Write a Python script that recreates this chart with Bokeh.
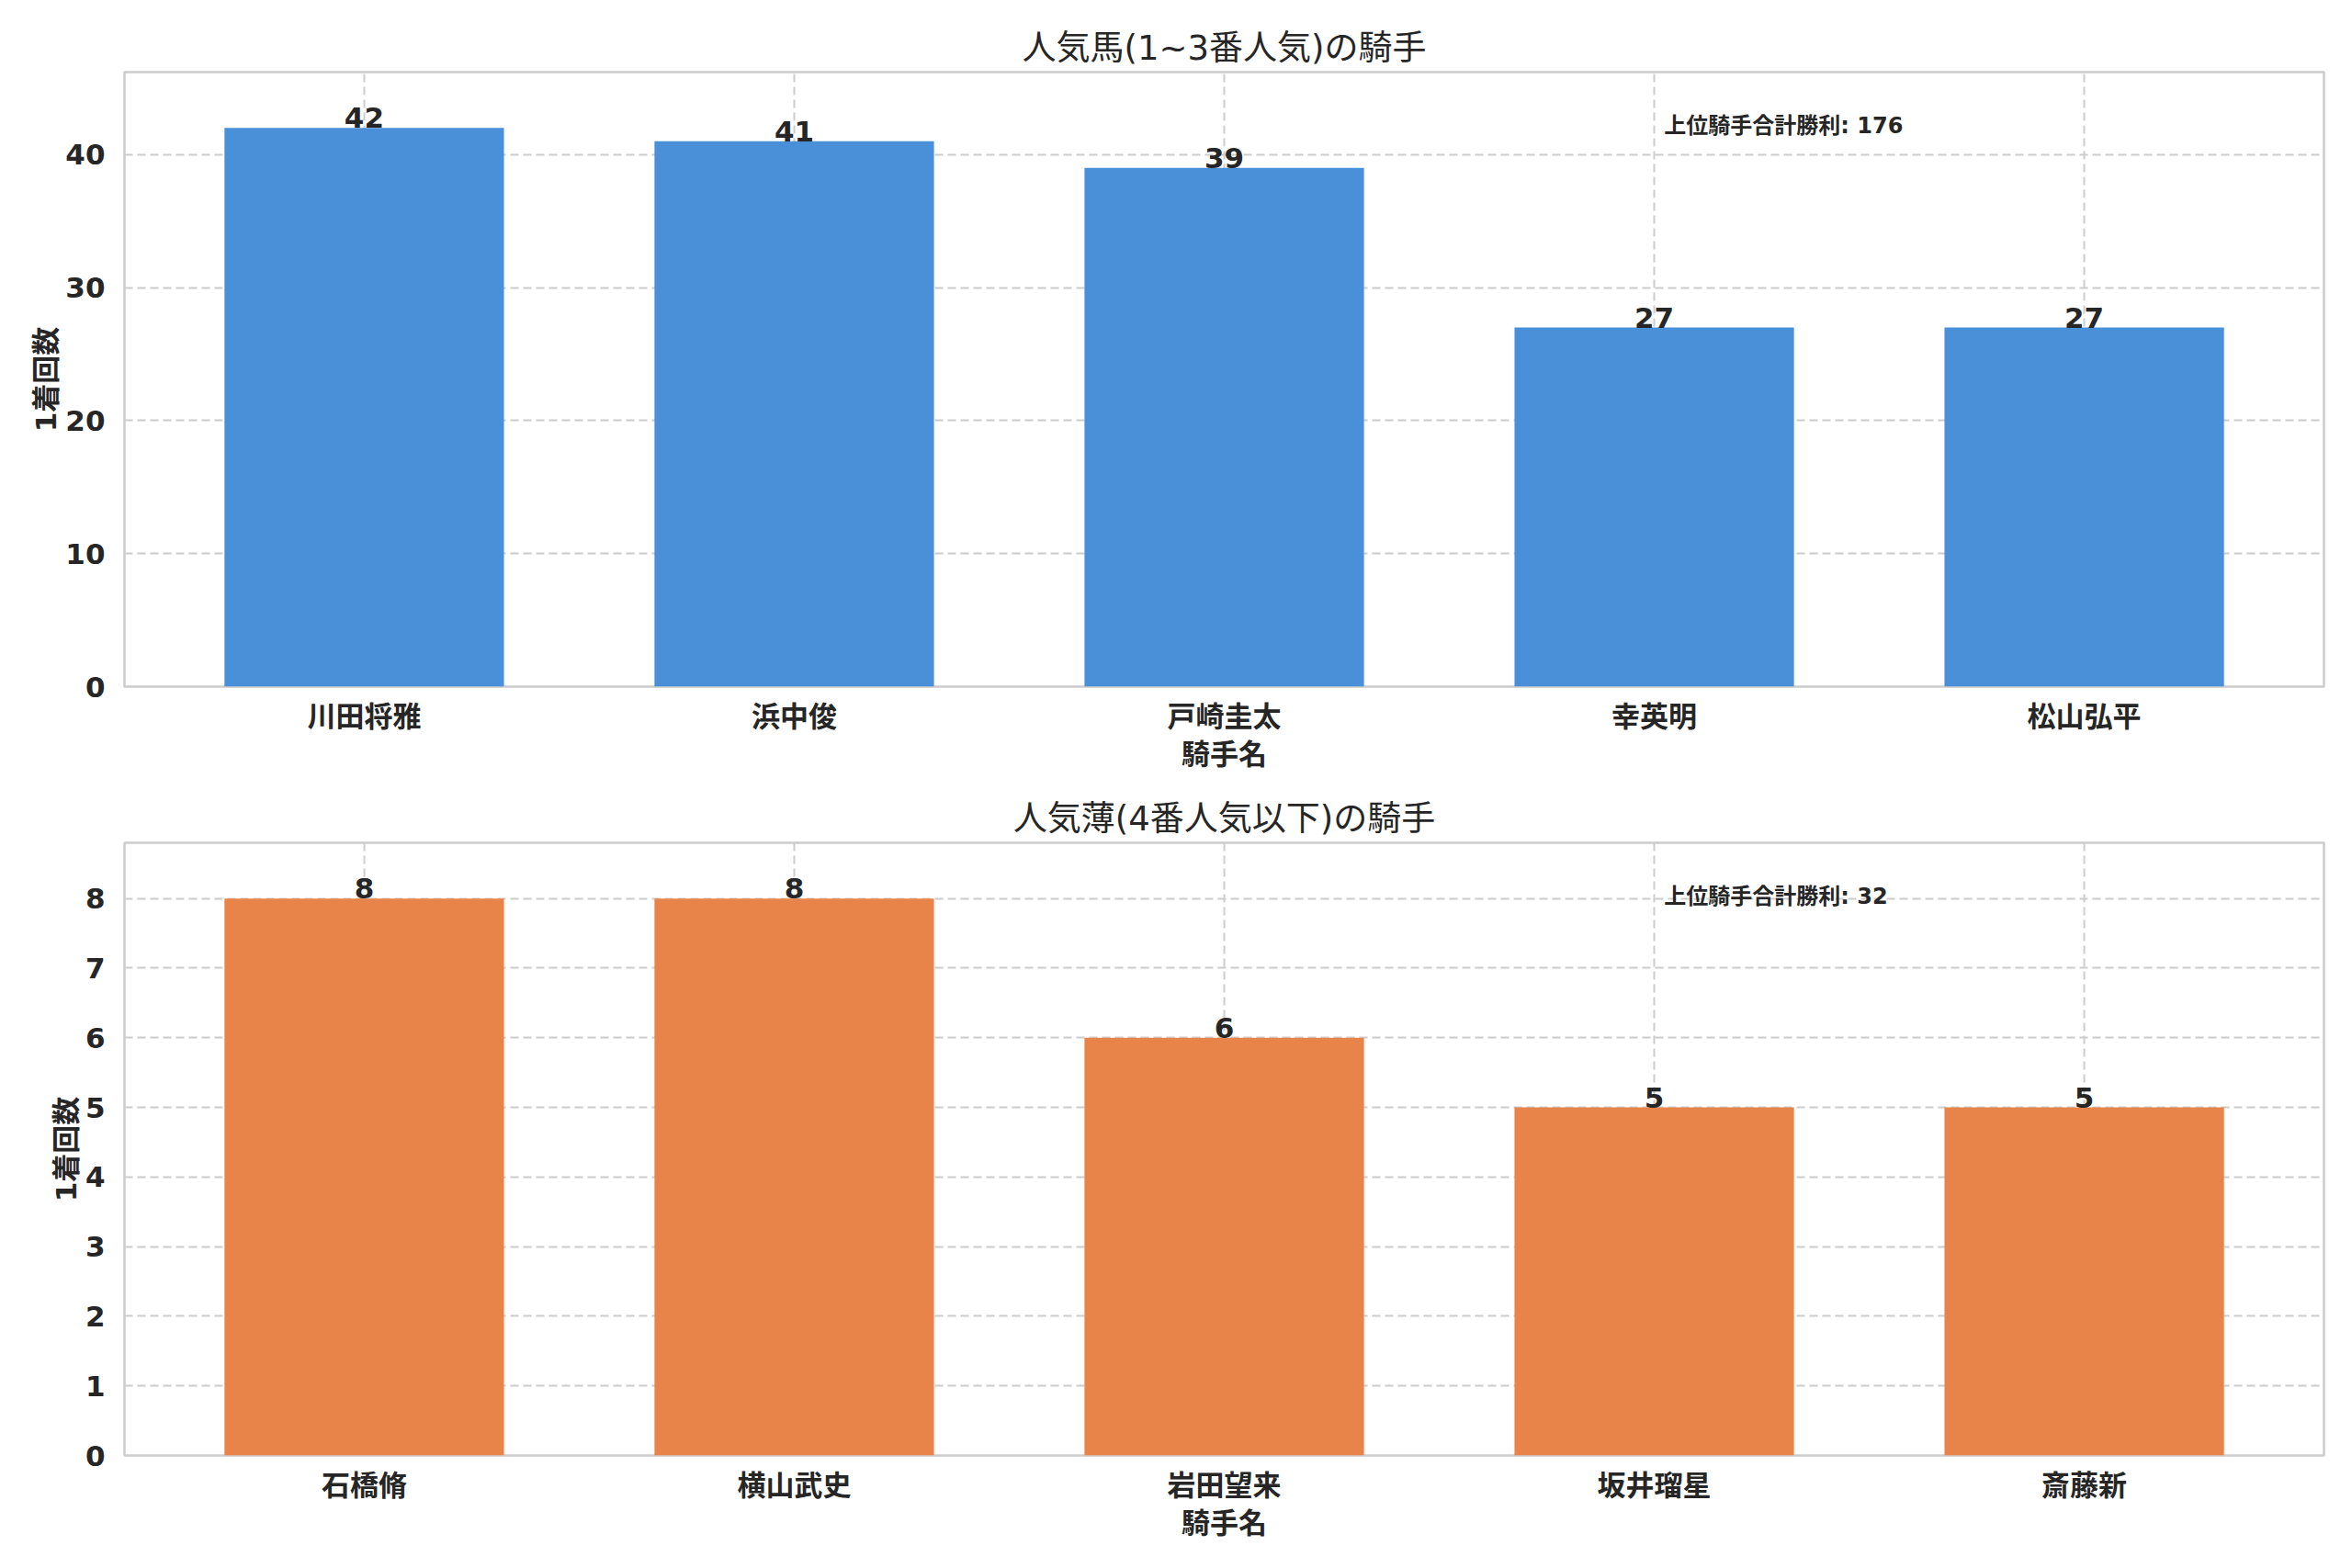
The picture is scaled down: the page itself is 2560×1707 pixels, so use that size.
from bokeh.plotting import figure
from bokeh.models import ColumnDataSource, Range1d, FixedTicker, Label
from bokeh.layouts import column
from bokeh.core.properties import value
from bokeh.embed import file_html
from bokeh.resources import INLINE

# ---- data ----
top_names = ["川田将雅", "浜中俊", "戸崎圭太", "幸英明", "松山弘平"]
top_wins = [42, 41, 39, 27, 27]
top_title = "人気馬(1~3番人気)の騎手"

bottom_names = ["石橋脩", "横山武史", "岩田望来", "坂井瑠星", "斎藤新"]
bottom_wins = [8, 8, 6, 5, 5]
bottom_title = "人気薄(4番人気以下)の騎手"

x_label = "騎手名"
y_label = "1着回数"
total_label = "上位騎手合計勝利"

top_yticks = [0, 10, 20, 30, 40]
bottom_yticks = [0, 1, 2, 3, 4, 5, 6, 7, 8]

FONT = "DejaVu Sans, Noto Sans CJK JP"
TXT = "#262626"
GRID = "#cccccc"


def make_plot(names, wins, title, color, yticks, height, border_top, border_bottom):
    n = len(names)
    bar_w = 0.65
    pad = 0.05 * (n - 1 + bar_w)
    x0, x1 = -bar_w / 2 - pad, n - 1 + bar_w / 2 + pad
    ymax = max(wins) * 1.1
    frame_h = height - border_top - border_bottom
    p = figure(width=2544, height=height, output_backend="svg", toolbar_location=None,
               x_range=Range1d(x0, x1), y_range=Range1d(0, ymax),
               min_border_left=135, min_border_right=15,
               min_border_top=border_top, min_border_bottom=border_bottom,
               title=title)
    p.background_fill_color = "white"
    p.border_fill_color = "white"
    p.outline_line_color = GRID
    p.outline_line_width = 2.5

    p.title.text_font = FONT
    p.title.text_font_size = "37px"
    p.title.text_font_style = "normal"
    p.title.text_color = TXT
    p.title.align = "center"
    p.title.standoff = 10

    src = ColumnDataSource(dict(x=list(range(n)), top=wins, label=[str(v) for v in wins]))
    p.vbar(x="x", top="top", width=bar_w, source=src, fill_color=color, line_color=None)
    p.text(x="x", y="top", text="label", source=src, text_align="center",
           text_baseline="alphabetic", y_offset=-11, text_font=value(FONT),
           text_font_size="31px", text_font_style="bold", text_color=TXT)

    p.xaxis.ticker = FixedTicker(ticks=list(range(n)))
    p.xaxis.major_label_overrides = {i: nm for i, nm in enumerate(names)}
    p.yaxis.ticker = FixedTicker(ticks=yticks)
    for ax in (p.xaxis, p.yaxis):
        ax.axis_line_color = None
        ax.major_tick_line_color = None
        ax.minor_tick_line_color = None
        ax.major_label_text_font = FONT
        ax.major_label_text_font_size = "31px"
        ax.major_label_text_font_style = "bold"
        ax.major_label_text_color = TXT
        ax.axis_label_text_font = FONT
        ax.axis_label_text_font_size = "31px"
        ax.axis_label_text_font_style = "bold"
        ax.axis_label_text_color = TXT
    p.xaxis.major_label_standoff = 8
    p.xaxis.axis_label_standoff = 2
    p.yaxis.major_label_standoff = 15
    p.yaxis.axis_label_standoff = 0
    p.xaxis.axis_label = x_label
    p.yaxis.axis_label = y_label

    for g in (p.xgrid, p.ygrid):
        g.grid_line_color = GRID
        g.grid_line_width = 2
        g.grid_line_dash = "9 5"
    p.xgrid.ticker = FixedTicker(ticks=list(range(n)))
    p.ygrid.ticker = FixedTicker(ticks=yticks)

    lab = Label(x=x0 + 0.7 * (x1 - x0), y=0.9 * ymax + 8.0 / frame_h * ymax,
                text=f"{total_label}: {sum(wins)}", text_font=FONT,
                text_font_size="24px", text_font_style="bold", text_color=TXT,
                text_align="left", text_baseline="alphabetic")
    p.add_layout(lab)
    return p


p1 = make_plot(top_names, top_wins, top_title, "#4A90D9", top_yticks, 847, 78, 100)
p2 = make_plot(bottom_names, bottom_wins, bottom_title, "#E8844A", bottom_yticks, 837, 70, 100)

layout = column(p1, p2)
open("out.html", "w").write(file_html(layout, INLINE))
